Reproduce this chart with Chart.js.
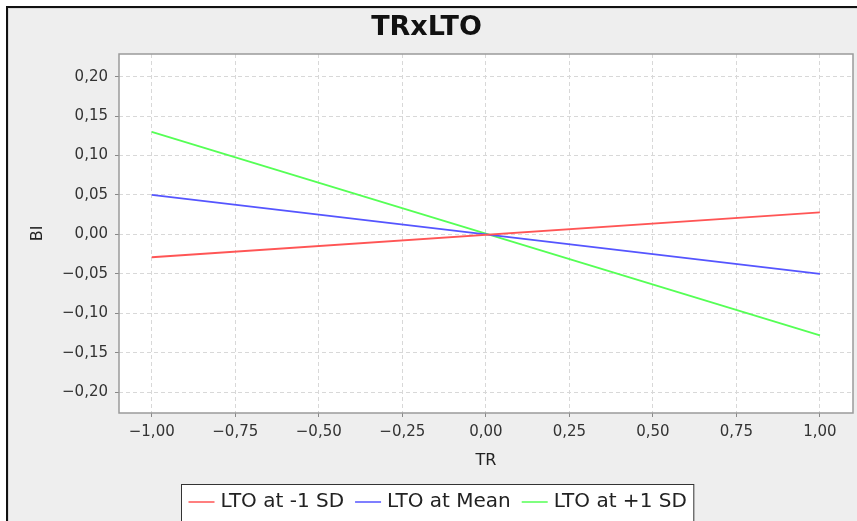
<!DOCTYPE html>
<html>
<head>
<meta charset="utf-8">
<script src="https://cdn.jsdelivr.net/npm/chart.js@4/dist/chart.umd.min.js"></script>
<style>
  html, body { margin: 0; padding: 0; background: #ffffff; overflow: hidden; width: 857px; height: 521px; }
  #frame { position: absolute; left: 6px; top: 6px; width: 900px; height: 600px;
           border-left: 2px solid #111; border-top: 2px solid #111; background: #eeeeee;
           box-shadow: inset 1px 1px 0 #d8d8d8; }
  #c { position: absolute; left: 0; top: 0; }
</style>
</head>
<body>
<div id="frame"></div>
<canvas id="c" width="874" height="521"></canvas>
<script>
// ---- data ----
const chartTitle = "TRxLTO";
const xTitle = "TR";
const yTitle = "BI";
const xValues = [-1.0, 1.0];
const seriesLabels = ["LTO at -1 SD", "LTO at Mean", "LTO at +1 SD"];
const lowSD  = [-0.029, 0.028];
const meanSD = [0.050, -0.050];
const highSD = [0.130, -0.128];
const seriesColors = ["#ff5555", "#5555ff", "#55ff55"];
const xTicks = [-1.0, -0.75, -0.5, -0.25, 0.0, 0.25, 0.5, 0.75, 1.0];
const yTicks = [-0.20, -0.15, -0.10, -0.05, 0.0, 0.05, 0.10, 0.15, 0.20];
const xRange = [-1.098, 1.099];
const yRange = [-0.2266, 0.2288];

const allSeries = [lowSD, meanSD, highSD];

function fmt(v) {
  const s = Math.abs(v).toFixed(2).replace(".", ",");
  return (v < -1e-9 ? "\u2212" : "") + s;
}

const FONT = "'DejaVu Sans', sans-serif";

const plotBg = {
  id: "plotBg",
  beforeDraw(chart) {
    const { ctx, chartArea: a } = chart;
    ctx.save();
    ctx.fillStyle = "#ffffff";
    ctx.fillRect(a.left, a.top, a.right - a.left, a.bottom - a.top);
    ctx.restore();
  },
  afterDraw(chart) {
    const { ctx, chartArea: a } = chart;
    ctx.save();
    ctx.strokeStyle = "#9a9a9a";
    ctx.lineWidth = 1.5;
    ctx.strokeRect(a.left, a.top, a.right - a.left, a.bottom - a.top);
    ctx.restore();
  }
};

const boxLegend = {
  id: "boxLegend",
  afterDraw(chart) {
    const ctx = chart.ctx;
    ctx.save();
    ctx.font = "20px " + FONT;
    const sample = 26, gapS = 6, gapI = 11, padX = 7;
    const ds = chart.data.datasets;
    const widths = ds.map(d => ctx.measureText(d.label).width);
    let total = padX * 2;
    widths.forEach((w, i) => { total += sample + gapS + w + (i < ds.length - 1 ? gapI : 0); });
    const boxLeft = Math.round(chart.width / 2 - total / 2) + 0.5;
    const boxTop = 484.5;
    ctx.fillStyle = "#ffffff";
    ctx.fillRect(boxLeft, boxTop, total, 60);
    ctx.strokeStyle = "#333333";
    ctx.lineWidth = 1;
    ctx.strokeRect(boxLeft, boxTop, total, 60);
    let x = boxLeft + padX;
    const cy = 502;
    ds.forEach((d, i) => {
      ctx.strokeStyle = d.borderColor;
      ctx.lineWidth = 1.5;
      ctx.beginPath();
      ctx.moveTo(x, cy);
      ctx.lineTo(x + sample, cy);
      ctx.stroke();
      x += sample + gapS;
      ctx.fillStyle = "#222222";
      ctx.textBaseline = "middle";
      ctx.textAlign = "left";
      ctx.fillText(d.label, x, cy);
      x += widths[i] + gapI;
    });
    ctx.restore();
  }
};

new Chart(document.getElementById("c"), {
  type: "scatter",
  data: {
    datasets: allSeries.map((vals, i) => ({
      label: seriesLabels[i],
      data: xValues.map((x, j) => ({ x: x, y: vals[j] })),
      showLine: true,
      borderColor: seriesColors[i],
      backgroundColor: seriesColors[i],
      borderWidth: 1.8,
      pointRadius: 0,
      pointHoverRadius: 0,
      fill: false
    }))
  },
  options: {
    responsive: false,
    animation: false,
    devicePixelRatio: 1,
    layout: { padding: { left: 0, right: 21, top: 0, bottom: 0 } },
    plugins: {
      legend: { display: false },
      tooltip: { enabled: false },
      title: {
        display: true,
        text: chartTitle,
        color: "#111111",
        font: { family: FONT, size: 27, weight: "bold", lineHeight: 32 / 27 },
        padding: { top: 12, bottom: 10 }
      }
    },
    scales: {
      x: {
        type: "linear",
        min: xRange[0],
        max: xRange[1],
        afterBuildTicks(s) { s.ticks = xTicks.map(v => ({ value: v })); },
        afterFit(s) { s.height = 108; },
        ticks: {
          callback: v => fmt(v),
          color: "#333333",
          font: { family: FONT, size: 15 },
          padding: 6,
          maxRotation: 0,
          autoSkip: false
        },
        grid: {
          color: "#d8d8d8",
          lineWidth: 1,
          drawTicks: true,
          tickLength: 4,
          tickColor: "#888888",
          tickBorderDash: []
        },
        border: { display: false, dash: [4, 3] },
        title: {
          display: true,
          text: xTitle,
          color: "#222222",
          font: { family: FONT, size: 16 },
          padding: { top: 0, bottom: 51 }
        }
      },
      y: {
        type: "linear",
        min: yRange[0],
        max: yRange[1],
        afterBuildTicks(s) { s.ticks = yTicks.map(v => ({ value: v })); },
        afterFit(s) { s.width = 119; },
        ticks: {
          callback: v => fmt(v),
          color: "#333333",
          font: { family: FONT, size: 15 },
          padding: 7,
          autoSkip: false
        },
        grid: {
          color: "#d8d8d8",
          lineWidth: 1,
          drawTicks: true,
          tickLength: 4,
          tickColor: "#888888",
          tickBorderDash: []
        },
        border: { display: false, dash: [4, 3] },
        title: {
          display: true,
          text: yTitle,
          color: "#222222",
          font: { family: FONT, size: 16 },
          padding: { top: 28, bottom: 0 }
        }
      }
    }
  },
  plugins: [plotBg, boxLegend]
});
</script>
</body>
</html>
